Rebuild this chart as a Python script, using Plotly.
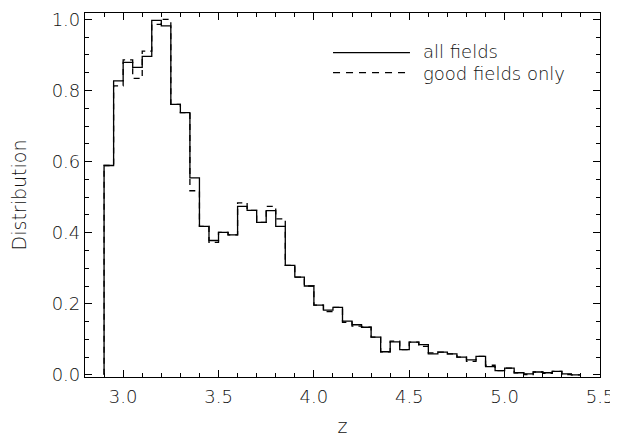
import plotly.graph_objects as go

# bin left edges (width 0.05)
bin_start = 2.90
bin_width = 0.05
all_fields = [0.589, 0.827, 0.879, 0.865, 0.896, 0.997, 0.982, 0.761, 0.738, 0.554,
              0.418, 0.378, 0.401, 0.394, 0.474, 0.463, 0.429, 0.462, 0.418, 0.308,
              0.275, 0.250, 0.196, 0.182, 0.190, 0.151, 0.141, 0.134, 0.106, 0.065,
              0.093, 0.071, 0.092, 0.085, 0.059, 0.064, 0.059, 0.050, 0.042, 0.052,
              0.023, 0.012, 0.019, 0.006, 0.003, 0.008, 0.006, 0.010, 0.003, 0.000]
good_fields = [0.589, 0.813, 0.886, 0.834, 0.911, 0.986, 1.000, 0.761, 0.738, 0.518,
               0.418, 0.373, 0.401, 0.394, 0.484, 0.463, 0.429, 0.474, 0.439, 0.308,
               0.275, 0.250, 0.196, 0.178, 0.190, 0.148, 0.137, 0.134, 0.106, 0.065,
               0.095, 0.071, 0.092, 0.080, 0.062, 0.064, 0.059, 0.050, 0.038, 0.052,
               0.027, 0.012, 0.019, 0.006, 0.001, 0.008, 0.004, 0.010, 0.001, 0.000]
legend_labels = ["all fields", "good fields only"]
x_ticks = [3.0, 3.5, 4.0, 4.5, 5.0, 5.5]
y_ticks = [0.0, 0.2, 0.4, 0.6, 0.8, 1.0]


def step_xy(vals):
    n = len(vals)
    edges = [round(bin_start + i * bin_width, 4) for i in range(n + 1)]
    xs = [edges[0]] + edges
    ys = [0.0] + list(vals) + [vals[-1]]
    xs = xs + [edges[-1]]
    ys = ys + [0.0]
    return xs, ys


FONT = "DejaVu Sans"
WEIGHT = 200
TXT = "#111"
fig = go.Figure()
xg, yg = step_xy(good_fields)
fig.add_trace(go.Scatter(x=xg, y=yg, mode="lines", line_shape="hv",
                         line=dict(color="#000", width=1.3, dash="6px,5px"),
                         name=legend_labels[1], showlegend=False))
xa, ya = step_xy(all_fields)
fig.add_trace(go.Scatter(x=xa, y=ya, mode="lines", line_shape="hv",
                         line=dict(color="#000", width=1.3),
                         name=legend_labels[0], showlegend=False))

# manual legend (IDL style)
leg_x0, leg_x1, leg_tx = 0.4816, 0.631, 0.652
leg_y = [0.891, 0.836]
leg_ty = [0.895, 0.833]
for yy, ty, dash, lab in zip(leg_y, leg_ty, ["solid", "7px,6px"], legend_labels):
    fig.add_shape(type="line", xref="paper", yref="paper", x0=leg_x0, x1=leg_x1,
                  y0=yy, y1=yy, line=dict(color="#000", width=1.2, dash=dash))
    fig.add_annotation(xref="paper", yref="paper", x=leg_tx, y=ty, text=lab,
                       showarrow=False, xanchor="left", yanchor="middle",
                       font=dict(family=FONT, size=18, color=TXT, weight=WEIGHT))

axis_common = dict(showline=True, linecolor="#000", linewidth=1.2, mirror="ticks",
                   ticks="inside", ticklen=7, tickwidth=1, tickcolor="#000",
                   showgrid=False, zeroline=False, automargin=False,
                   tickfont=dict(family=FONT, size=18, color=TXT, weight=WEIGHT))
fig.update_xaxes(range=[2.8, 5.5], tickvals=x_ticks, tickformat=".1f",
                 minor=dict(dtick=0.1, tick0=2.8, ticks="inside", ticklen=4,
                            tickcolor="#000", showgrid=False),
                 title=dict(text="z", font=dict(family=FONT, size=19, color=TXT, weight=WEIGHT), standoff=38),
                 ticklabelstandoff=3,
                 **axis_common)
fig.update_yaxes(range=[-0.006, 1.018], tickvals=y_ticks, tickformat=".1f",
                 minor=dict(dtick=0.05, tick0=0, ticks="inside", ticklen=4,
                            tickcolor="#000", showgrid=False),
                 title=dict(text="Distribution", font=dict(family=FONT, size=19, color=TXT, weight=WEIGHT), standoff=22),
                 ticklabelstandoff=0,
                 **axis_common)
fig.update_layout(width=610, height=429, margin=dict(l=77, r=18, t=5, b=60),
                  paper_bgcolor="#fff", plot_bgcolor="#fff", showlegend=False)
fig.write_html("out.html")
